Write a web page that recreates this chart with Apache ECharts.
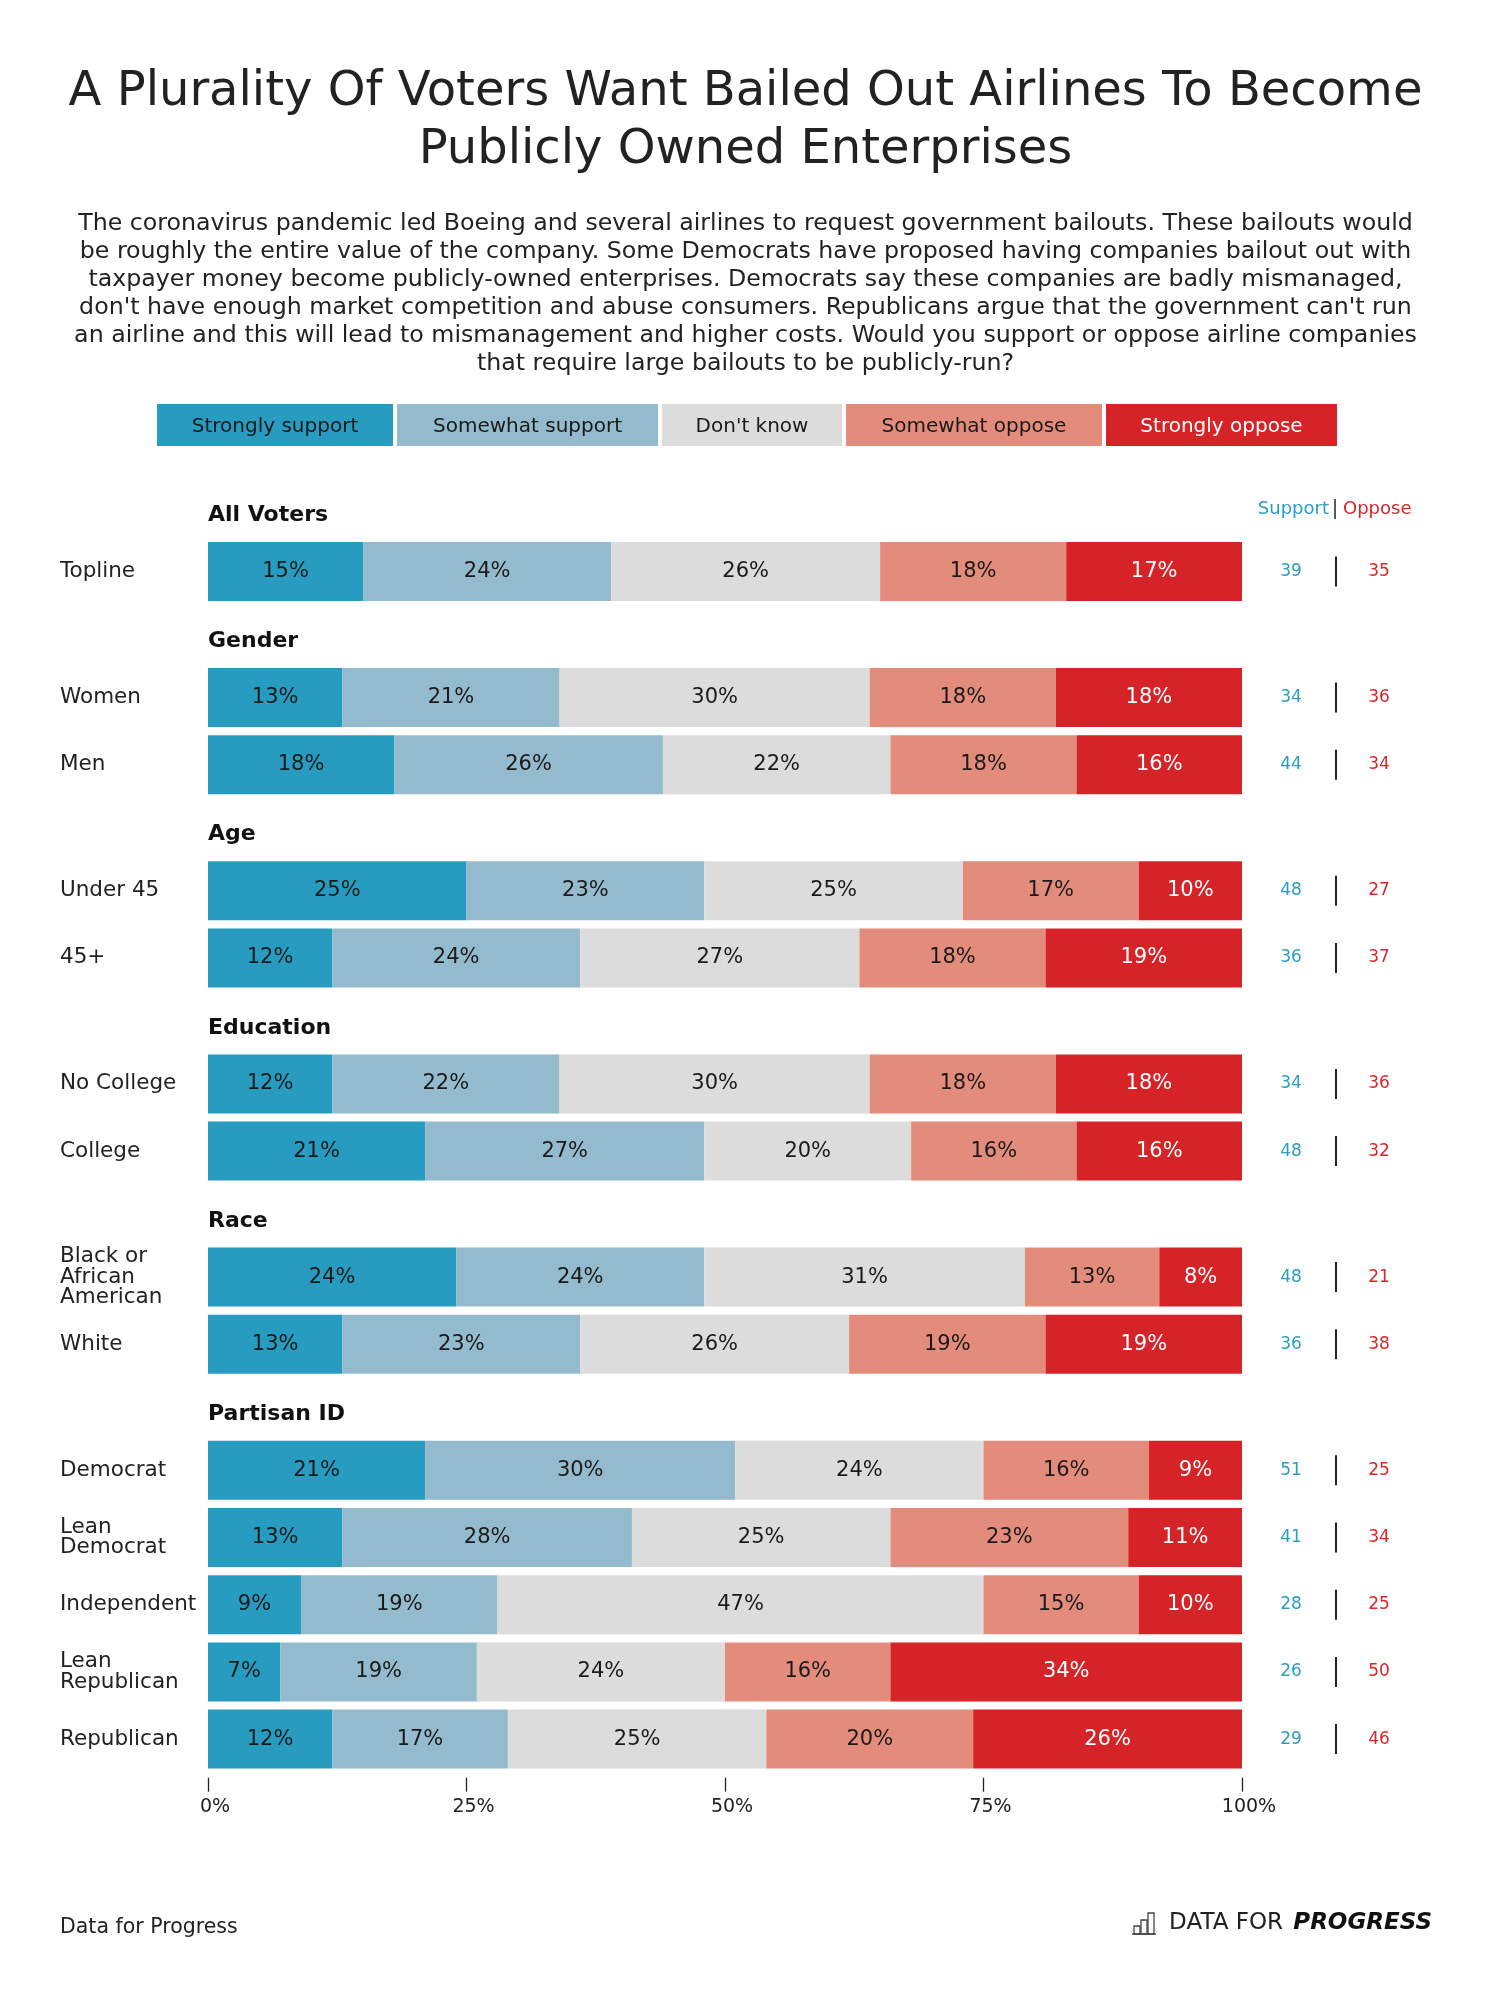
<!DOCTYPE html>
<html><head><meta charset="utf-8">
<script src="https://cdn.jsdelivr.net/npm/echarts@6/dist/echarts.min.js"></script>
<style>html,body{margin:0;padding:0;background:#fff}#c{width:1491px;height:1999px}</style>
</head><body><div id="c"></div>
<script>
// ---------------- data ----------------
const groupNames = ['All Voters', 'Gender', 'Age', 'Education', 'Race', 'Partisan ID'];
const categories = ['Topline', 'Women', 'Men', 'Under 45', '45+', 'No College', 'College',
  'Black or\nAfrican\nAmerican', 'White', 'Democrat', 'Lean\nDemocrat', 'Independent',
  'Lean\nRepublican', 'Republican'];
const groupOfRow = [0, 1, 1, 2, 2, 3, 3, 4, 4, 5, 5, 5, 5, 5];
const seriesNames = ['Strongly support', 'Somewhat support', "Don't know", 'Somewhat oppose', 'Strongly oppose'];
const stronglySupport = [15, 13, 18, 25, 12, 12, 21, 24, 13, 21, 13, 9, 7, 12];
const somewhatSupport = [24, 21, 26, 23, 24, 22, 27, 24, 23, 30, 28, 19, 19, 17];
const dontKnow        = [26, 30, 22, 25, 27, 30, 20, 31, 26, 24, 25, 47, 24, 25];
const somewhatOppose  = [18, 18, 18, 17, 18, 18, 16, 13, 19, 16, 23, 15, 16, 20];
const stronglyOppose  = [17, 18, 16, 10, 19, 18, 16, 8, 19, 9, 11, 10, 34, 26];
const supportTotal = [39, 34, 44, 48, 36, 34, 48, 48, 36, 51, 41, 28, 26, 29];
const opposeTotal  = [35, 36, 34, 27, 37, 36, 32, 21, 38, 25, 34, 25, 50, 46];
const tickLabels = ['0%', '25%', '50%', '75%', '100%'];

const titleLines = ['A Plurality Of Voters Want Bailed Out Airlines To Become', 'Publicly Owned Enterprises'];
const subtitleLines = [
  'The coronavirus pandemic led Boeing and several airlines to request government bailouts. These bailouts would',
  'be roughly the entire value of the company. Some Democrats have proposed having companies bailout out with',
  'taxpayer money become publicly-owned enterprises. Democrats say these companies are badly mismanaged,',
  "don't have enough market competition and abuse consumers. Republicans argue that the government can't run",
  'an airline and this will lead to mismanagement and higher costs. Would you support or oppose airline companies',
  'that require large bailouts to be publicly-run?'
];

// ---------------- style / layout ----------------
const FONT = "'DejaVu Sans', sans-serif";
const colors = ['#279cc0', '#94bbcd', '#dcdcdc', '#e48c7c', '#d62327'];
const labelColors = ['#1a1a1a', '#1a1a1a', '#1a1a1a', '#1a1a1a', '#ffffff'];
const BAR_LEFT = 208, BAR_RIGHT = 1242, W = 1491;
const ROW = 67.2, GROUP = 126, FIRST = 571.5, BAR_H = 59;

const values = [stronglySupport, somewhatSupport, dontKnow, somewhatOppose, stronglyOppose];

const centers = [];
let cy = FIRST;
categories.forEach((_, i) => {
  if (i > 0) cy += (groupOfRow[i] !== groupOfRow[i - 1]) ? GROUP : ROW;
  centers.push(cy);
});
const rowsOfGroup = groupNames.map((_, g) => categories.map((_, i) => i).filter(i => groupOfRow[i] === g));

const grids = [], xAxes = [], yAxes = [], series = [], graphics = [];
const lastG = groupNames.length - 1;

rowsOfGroup.forEach((rows, g) => {
  const top = centers[rows[0]] - ROW / 2;
  grids.push({ left: BAR_LEFT, right: W - BAR_RIGHT, top: top, height: rows.length * ROW,
    containLabel: false, outerBoundsMode: 'none' });
  xAxes.push({
    type: 'value', gridIndex: g, min: 0, max: 100, interval: 25, show: g === lastG,
    offset: 5,
    axisLine: { show: false },
    axisTick: { show: true, length: 14, lineStyle: { color: '#222', width: 1.3 } },
    splitLine: { show: false },
    axisLabel: { show: true, margin: 20, fontSize: 19, color: '#222', fontFamily: FONT,
      padding: [0, 0, 0, 14], formatter: v => tickLabels[Math.round(v / 25)] }
  });
  yAxes.push({
    type: 'category', gridIndex: g, inverse: true, data: rows.map(i => categories[i]),
    axisLine: { show: false }, axisTick: { show: false }, splitLine: { show: false },
    axisLabel: { interval: 0, align: 'left', margin: BAR_LEFT - 60, fontSize: 21.5, lineHeight: 20.5,
      color: '#222', fontFamily: FONT }
  });
  yAxes.push({
    type: 'category', gridIndex: g, inverse: true, position: 'right', data: rows.map(i => categories[i]),
    axisLine: { show: false }, axisTick: { show: false }, splitLine: { show: false },
    axisLabel: { interval: 0, align: 'left', margin: 5,
      formatter: (v, idx) => '{s|' + supportTotal[rows[idx]] + '}{sep|}{o|' + opposeTotal[rows[idx]] + '}',
      rich: {
        s: { width: 88, align: 'center', color: '#2a9dc4', fontSize: 17, fontFamily: FONT, height: 30 },
        sep: { width: 2, height: 30, align: 'center', backgroundColor: '#222' },
        o: { width: 84, align: 'center', color: '#d9262a', fontSize: 17, fontFamily: FONT, height: 30 }
      } }
  });
  values.forEach((arr, k) => {
    series.push({
      type: 'bar', name: seriesNames[k], xAxisIndex: g, yAxisIndex: g * 2, stack: 'grp' + g,
      barWidth: BAR_H, data: rows.map(i => arr[i]),
      itemStyle: { color: colors[k] },
      label: { show: true, position: 'inside', formatter: '{c}%', fontSize: 21, fontFamily: FONT,
        color: labelColors[k], textBorderWidth: 0 },
      emphasis: { disabled: true }, animation: false
    });
  });
  // group header
  graphics.push({ type: 'text', x: BAR_LEFT, y: centers[rows[0]] - 56,
    style: { text: groupNames[g], font: 'bold 22px ' + FONT, fill: '#111', verticalAlign: 'middle' } });
});

// title & subtitle
titleLines.forEach((t, i) => graphics.push({ type: 'text', x: W / 2, y: 93 + i * 58,
  style: { text: t, font: '48px ' + FONT, fill: '#222', align: 'center', verticalAlign: 'middle' } }));
subtitleLines.forEach((t, i) => graphics.push({ type: 'text', x: W / 2, y: 223.5 + i * 28.1,
  style: { text: t, font: '23.7px ' + FONT, fill: '#222', align: 'center', verticalAlign: 'middle' } }));

// legend boxes
const legendBoxes = [[157, 393], [397, 658], [662, 842], [846, 1102], [1106, 1337]];
legendBoxes.forEach((b, k) => {
  graphics.push({ type: 'rect', shape: { x: b[0], y: 404, width: b[1] - b[0], height: 42 },
    style: { fill: colors[k] } });
  graphics.push({ type: 'text', x: (b[0] + b[1]) / 2, y: 427,
    style: { text: seriesNames[k], font: '20px ' + FONT, fill: labelColors[k], align: 'center', verticalAlign: 'middle' } });
});

// Support | Oppose header
graphics.push({ type: 'text', x: 1329, y: 509, style: { text: 'Support', font: '18px ' + FONT, fill: '#2a9dc4', align: 'right', verticalAlign: 'middle' } });
graphics.push({ type: 'line', shape: { x1: 1335, y1: 499, x2: 1335, y2: 519 }, style: { stroke: '#222', lineWidth: 1.5 } });
graphics.push({ type: 'text', x: 1343, y: 509, style: { text: 'Oppose', font: '18px ' + FONT, fill: '#d9262a', align: 'left', verticalAlign: 'middle' } });

// footer
graphics.push({ type: 'text', x: 60, y: 1928, style: { text: 'Data for Progress', font: '20.5px ' + FONT, fill: '#222', verticalAlign: 'middle' } });
// logo icon (decorative)
const iconBars = [[1134, 1926, 6, 8], [1141, 1920, 6, 14], [1148, 1913, 6, 21]];
iconBars.forEach(r => graphics.push({ type: 'rect', shape: { x: r[0], y: r[1], width: r[2], height: r[3] },
  style: { fill: 'none', stroke: '#444', lineWidth: 1.3 } }));
graphics.push({ type: 'line', shape: { x1: 1132, y1: 1934, x2: 1156, y2: 1934 }, style: { stroke: '#444', lineWidth: 1.5 } });
graphics.push({ type: 'text', x: 1283, y: 1923, style: { text: 'DATA FOR', font: '23px ' + FONT, fill: '#222', align: 'right', verticalAlign: 'middle' } });
graphics.push({ type: 'text', x: 1432, y: 1923, style: { text: 'PROGRESS', font: 'italic bold 23px ' + FONT, fill: '#111', align: 'right', verticalAlign: 'middle' } });

const chart = echarts.init(document.getElementById('c'), null, { renderer: 'canvas' });
chart.setOption({
  backgroundColor: '#ffffff',
  animation: false,
  grid: grids, xAxis: xAxes, yAxis: yAxes, series: series, graphic: graphics
});
</script></body></html>
